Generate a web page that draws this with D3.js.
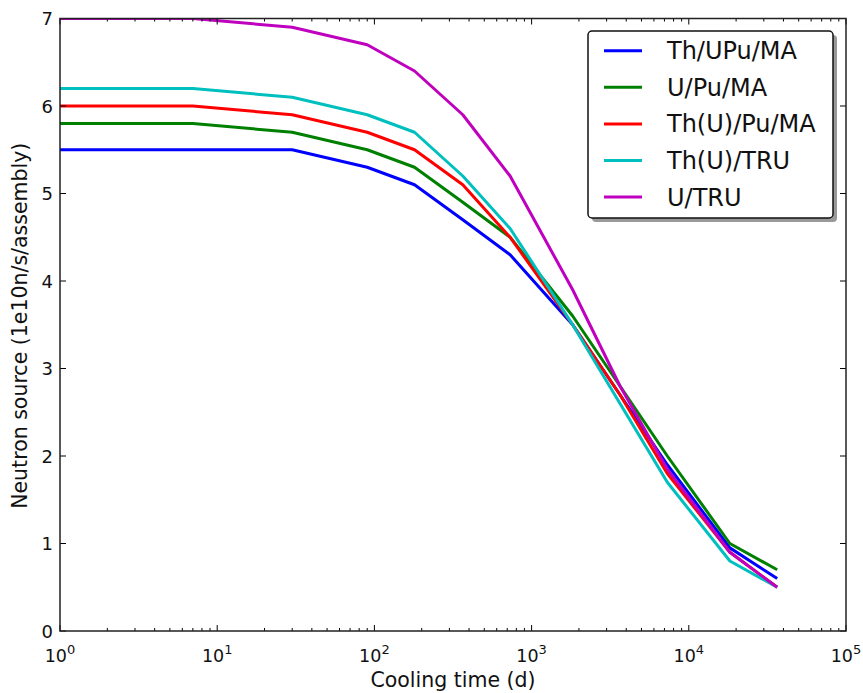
<!DOCTYPE html>
<html>
<head>
<meta charset="utf-8">
<script src="https://cdn.jsdelivr.net/npm/d3@7/dist/d3.min.js"></script>
<style>
  html, body { margin: 0; padding: 0; background: #fff; }
  svg { display: block; font-family: "DejaVu Sans", sans-serif; }
</style>
</head>
<body>
<svg id="chart" width="863" height="693"></svg>
<script>
// Cooling time (days)
const coolingDays = [1, 7, 30, 90, 180, 365, 730, 1825, 3650, 7300, 18250, 36500];
const seriesNames = ["Th/UPu/MA", "U/Pu/MA", "Th(U)/Pu/MA", "Th(U)/TRU", "U/TRU"];
const seriesColors = ["#0000ff", "#008000", "#ff0000", "#00bfbf", "#bf00bf"];
const thUPuMA   = [5.5, 5.5, 5.5, 5.3, 5.1, 4.7, 4.3, 3.5, 2.7, 1.9, 0.95, 0.6];
const uPuMA     = [5.8, 5.8, 5.7, 5.5, 5.3, 4.9, 4.5, 3.6, 2.8, 2.0, 1.0, 0.7];
const thUPuMA2  = [6.0, 6.0, 5.9, 5.7, 5.5, 5.1, 4.5, 3.5, 2.7, 1.8, 0.9, 0.5];
const thUTRU    = [6.2, 6.2, 6.1, 5.9, 5.7, 5.2, 4.6, 3.5, 2.6, 1.7, 0.8, 0.5];
const uTRU      = [7.0, 7.0, 6.9, 6.7, 6.4, 5.9, 5.2, 3.9, 2.8, 1.85, 0.9, 0.5];
const seriesValues = [thUPuMA, uPuMA, thUPuMA2, thUTRU, uTRU];
const yTicks = [0, 1, 2, 3, 4, 5, 6, 7];
const xMajor = [1, 10, 100, 1000, 10000, 100000];
const xLabel = "Cooling time (d)";
const yLabel = "Neutron source (1e10n/s/assembly)";

const svg = d3.select("#chart");
const L = 60, R = 846, T = 18.5, B = 631;

const x = d3.scaleLog().domain([1, 1e5]).range([L, R]);
const y = d3.scaleLinear().domain([0, 7]).range([B, T]);

svg.append("defs").append("clipPath").attr("id", "clip")
  .append("rect").attr("x", L).attr("y", T).attr("width", R - L).attr("height", B - T);

// Lines
const line = d3.line().x((d, i) => x(coolingDays[i])).y(d => y(d));
const g = svg.append("g").attr("clip-path", "url(#clip)");
seriesValues.forEach((vals, k) => {
  g.append("path").datum(vals)
    .attr("d", line)
    .attr("fill", "none")
    .attr("stroke", seriesColors[k])
    .attr("stroke-width", 3)
    .attr("stroke-linejoin", "round");
});

// Ticks (inward, all sides)
const ax = svg.append("g").attr("stroke", "#000").attr("stroke-width", 1);
const minor = [];
for (let e = 0; e < 5; e++) for (let m = 2; m <= 9; m++) minor.push(m * Math.pow(10, e));
minor.forEach(v => {
  ax.append("line").attr("x1", x(v)).attr("x2", x(v)).attr("y1", B).attr("y2", B - 3);
  ax.append("line").attr("x1", x(v)).attr("x2", x(v)).attr("y1", T).attr("y2", T + 3);
});
xMajor.forEach(v => {
  ax.append("line").attr("x1", x(v)).attr("x2", x(v)).attr("y1", B).attr("y2", B - 6);
  ax.append("line").attr("x1", x(v)).attr("x2", x(v)).attr("y1", T).attr("y2", T + 6);
});
yTicks.forEach(v => {
  ax.append("line").attr("x1", L).attr("x2", L + 6).attr("y1", y(v)).attr("y2", y(v));
  ax.append("line").attr("x1", R).attr("x2", R - 6).attr("y1", y(v)).attr("y2", y(v));
});

// Frame
svg.append("rect").attr("x", L).attr("y", T).attr("width", R - L).attr("height", B - T)
  .attr("fill", "none").attr("stroke", "#222").attr("stroke-width", 1.5);

// Y tick labels
svg.append("g").selectAll("text").data(yTicks).join("text")
  .attr("x", L - 7).attr("y", d => y(d) + 6.5)
  .attr("text-anchor", "end").attr("font-size", 18).attr("fill", "#111")
  .text(d => d);

// X tick labels with superscript
const xl = svg.append("g").selectAll("text").data(xMajor).join("text")
  .attr("x", d => x(d)).attr("y", 662)
  .attr("text-anchor", "middle").attr("font-size", 17.5).attr("fill", "#111");
xl.append("tspan").text("10");
xl.append("tspan").attr("dy", -8).attr("font-size", 13).text(d => Math.round(Math.log10(d)));

// Axis labels
svg.append("text").attr("x", (L + R) / 2).attr("y", 687)
  .attr("text-anchor", "middle").attr("font-size", 20.5).attr("fill", "#111").text(xLabel);
svg.append("text").attr("transform", `translate(27,${(T + B) / 2 + 1}) rotate(-90)`)
  .attr("text-anchor", "middle").attr("font-size", 20.5).attr("fill", "#111").text(yLabel);

// Legend
const lg = svg.append("g");
const lx = 588, ly = 31, lw = 245, lh = 187;
lg.append("rect").attr("x", lx + 4).attr("y", ly + 4).attr("width", lw).attr("height", lh)
  .attr("rx", 4).attr("fill", "#555").attr("opacity", 0.6);
lg.append("rect").attr("x", lx).attr("y", ly).attr("width", lw).attr("height", lh)
  .attr("rx", 4).attr("fill", "#fff").attr("stroke", "#111").attr("stroke-width", 1.5);
seriesNames.forEach((name, k) => {
  const yy = 50.7 + k * 36.6;
  lg.append("line").attr("x1", 604).attr("x2", 642).attr("y1", yy).attr("y2", yy)
    .attr("stroke", seriesColors[k]).attr("stroke-width", 3);
  lg.append("text").attr("x", 667).attr("y", yy + 8.5).attr("font-size", 24).attr("fill", "#111").text(name);
});
</script>
</body>
</html>
